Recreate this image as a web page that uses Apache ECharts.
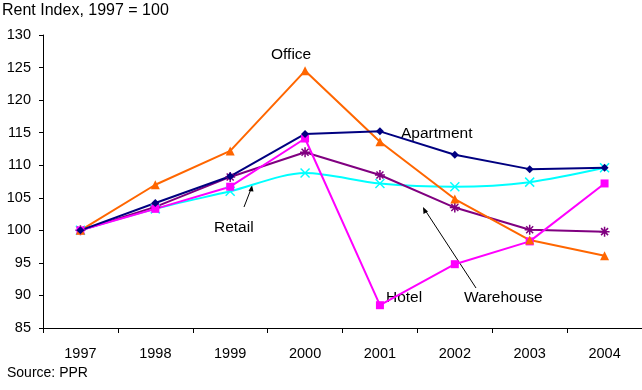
<!DOCTYPE html>
<html>
<head>
<meta charset="utf-8">
<script src="https://cdn.jsdelivr.net/npm/echarts@6/dist/echarts.min.js"></script>
<style>
  html, body { margin: 0; padding: 0; background: #fff; }
  #chart { width: 642px; height: 390px; }
</style>
</head>
<body>
<div id="chart"></div>
<script>
// Rent index by property type, 1997 = 100
const years = ['1997', '1998', '1999', '2000', '2001', '2002', '2003', '2004'];
const office    = [100, 107.0, 112.2, 124.5, 113.6, 104.8, 98.5, 96.1];
const apartment = [100, 104.2, 108.3, 114.8, 115.2, 111.6, 109.4, 109.6];
const hotel     = [100, 103.3, 106.7, 114.1, 88.5, 94.8, 98.3, 107.2];
const warehouse = [100, 103.6, 108.2, 112.0, 108.5, 103.5, 100.1, 99.8];
const retail    = [100, 103.3, 106.0, 108.8, 107.2, 106.7, 107.4, 109.6];
const yTicks = { min: 85, max: 130, step: 5 };

const FONT = '"Liberation Sans", Arial, sans-serif';
const chart = echarts.init(document.getElementById('chart'));

function line(name, data, color, symbol, size, extra) {
  return Object.assign({
    name: name,
    type: 'line',
    data: data,
    symbol: symbol,
    symbolSize: size,
    lineStyle: { color: color, width: 2 },
    itemStyle: { color: color },
    emphasis: { disabled: true },
    animation: false
  }, extra || {});
}

const starPath = 'path://M5,0 L5,10 M0,5 L10,5 M1.5,1.5 L8.5,8.5 M8.5,1.5 L1.5,8.5';
const crossPath = 'path://M0,0 L10,10 M10,0 L0,10';

function label(text, left, top, size) {
  return { type: 'text', left: left, top: top, style: { text: text, font: size + 'px ' + FONT, fill: '#000' } };
}

chart.setOption({
  backgroundColor: '#fff',
  animation: false,
  grid: { left: 43, right: -4, top: 35, bottom: 62 },
  xAxis: {
    type: 'category',
    data: years,
    boundaryGap: true,
    axisLine: { lineStyle: { color: '#000', width: 1 } },
    axisTick: { show: true, length: 5, inside: false, lineStyle: { color: '#000' } },
    axisLabel: { color: '#000', fontFamily: FONT, fontSize: 14.5, margin: 18 }
  },
  yAxis: {
    type: 'value',
    min: yTicks.min,
    max: yTicks.max,
    interval: yTicks.step,
    axisLine: { show: true, lineStyle: { color: '#000', width: 1 } },
    axisTick: { show: true, length: 4, lineStyle: { color: '#000' } },
    splitLine: { show: false },
    axisLabel: { color: '#000', fontFamily: FONT, fontSize: 14.5, margin: 12 }
  },
  series: [
    line('Retail', retail, '#00FFFF', crossPath, 9, {
      smooth: 0.3,
      itemStyle: { color: 'none', borderColor: '#00FFFF', borderWidth: 1.5 }
    }),
    line('Warehouse', warehouse, '#800080', starPath, 10, {
      itemStyle: { color: 'none', borderColor: '#800080', borderWidth: 1.5 }
    }),
    line('Hotel', hotel, '#FF00FF', 'rect', 8),
    line('Office', office, '#FF6600', 'triangle', 9),
    line('Apartment', apartment, '#000080', 'diamond', 8)
  ],
  graphic: [
    label('Rent Index, 1997 = 100', 2, 3, 16),
    label('Source: PPR', 7, 366, 14),
    label('Office', 271, 47, 15.5),
    label('Apartment', 401, 126, 15.5),
    label('Retail', 214, 220, 15.5),
    label('Hotel', 386, 290, 15.5),
    label('Warehouse', 464, 290, 15.5),
    // annotation arrows
    { type: 'line', shape: { x1: 244, y1: 207, x2: 251, y2: 189 }, style: { stroke: '#000', lineWidth: 1 } },
    { type: 'polygon', shape: { points: [[252, 185], [248.5, 191], [253.5, 191.5]] }, style: { fill: '#000' } },
    { type: 'line', shape: { x1: 476, y1: 288, x2: 425, y2: 210 }, style: { stroke: '#000', lineWidth: 1 } },
    { type: 'polygon', shape: { points: [[423, 207], [423.5, 214], [428, 211.5]] }, style: { fill: '#000' } }
  ]
});
</script>
</body>
</html>
